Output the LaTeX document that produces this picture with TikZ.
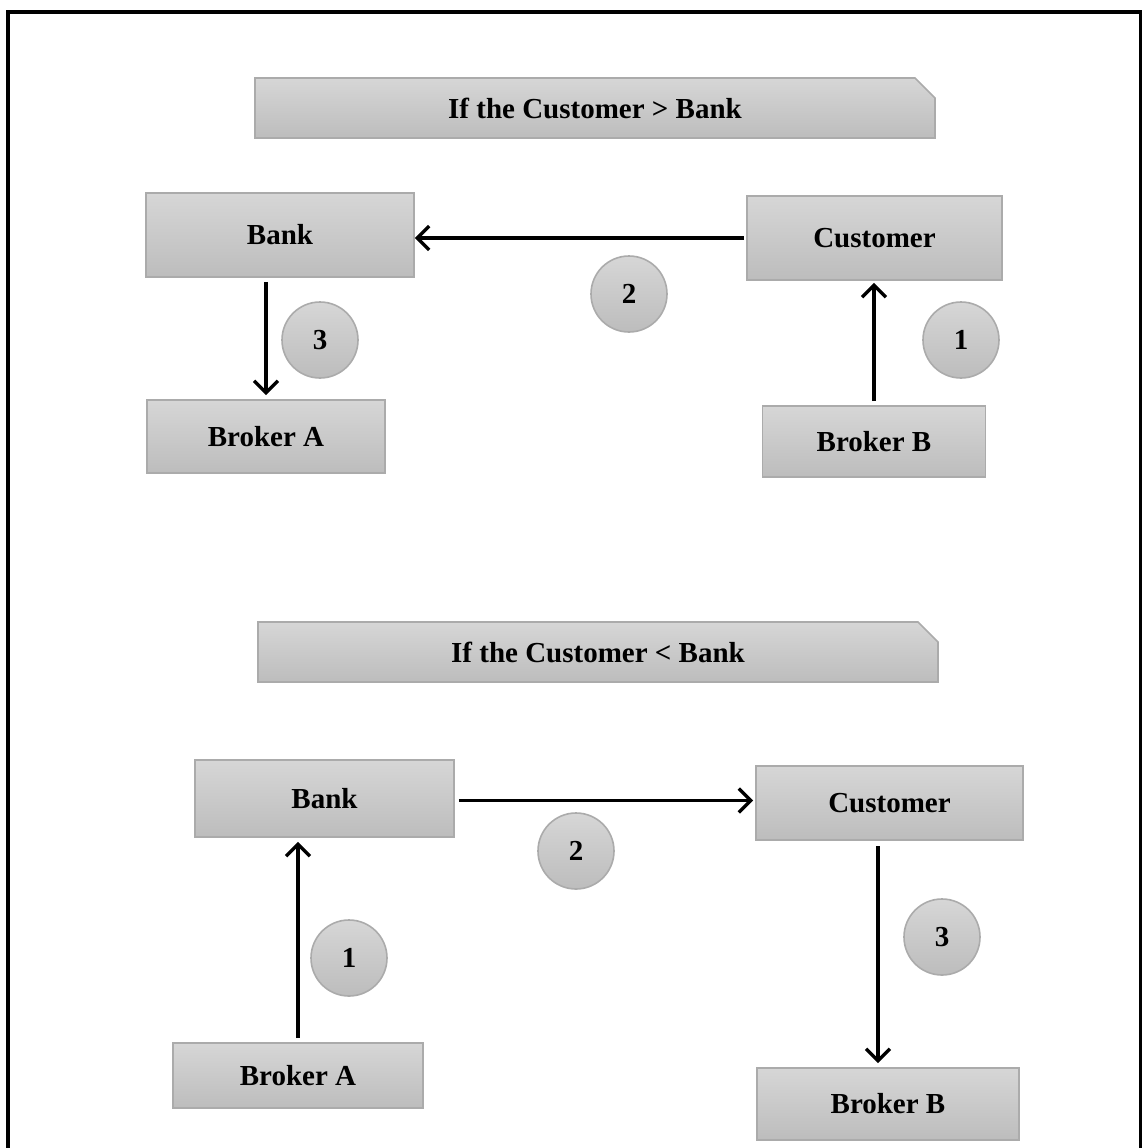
\documentclass[tikz,border=0pt]{standalone}
\usepackage{fontspec}
\setmainfont{Liberation Serif}
\usetikzlibrary{arrows.meta,shapes.misc}
\tikzset{
  shade box/.style={draw=black!33, line width=0.8pt, top color=black!16, bottom color=black!26,
    font=\fontsize{14.5}{17}\selectfont\bfseries, inner sep=0pt},
  stepbox/.style={shade box, rectangle},
  titlebox/.style={shade box, chamfered rectangle, chamfered rectangle corners=north east,
    chamfered rectangle xsep=5pt, chamfered rectangle ysep=5pt,
    minimum width=340pt, minimum height=30pt},
  badge/.style={shade box, circle, minimum size=38pt},
  flow/.style={line width=1.7pt, -{Straight Barb[length=6pt,width=12pt,line width=1.7pt]}}
}
\begin{document}
\begin{tikzpicture}[x=0.5pt,y=-0.5pt]
\useasboundingbox (0,0) rectangle (1142,1148);
% outer frame (open at the bottom)
\draw[line width=2pt] (8,1160) -- (8,12) -- (1141,12) -- (1141,1160);

% ---- case: customer > bank ----
\node[titlebox] (t1) at (595,108) {If the Customer > Bank};
\node[stepbox, minimum width=134pt, minimum height=42pt] (bank1) at (280,235) {Bank};
\node[stepbox, minimum width=127.5pt, minimum height=42pt] (cust1) at (874.5,238) {Customer};
\node[stepbox, minimum width=119pt, minimum height=36.5pt] (brA1) at (266,436.5) {Broker A};
\node[stepbox, minimum width=111.5pt, minimum height=35.5pt] (brB1) at (874,441.5) {Broker B};
\node[badge] (n1a) at (961,340) {1};
\node[badge] (n2a) at (629,294) {2};
\node[badge] (n3a) at (320,340) {3};

\draw[flow, shorten <=1pt] (cust1.west) -- (cust1.west -| bank1.east);
\draw[flow, shorten <=2pt, shorten >=2pt] (bank1.south -| brA1.north) -- (brA1.north);
\draw[flow, shorten <=2pt, shorten >=1pt] (brB1.north) -- (brB1.north |- cust1.south);

% ---- case: customer < bank ----
\node[titlebox] (t2) at (598,652) {If the Customer < Bank};
\node[stepbox, minimum width=129.5pt, minimum height=38.5pt] (bank2) at (324.5,798.5) {Bank};
\node[stepbox, minimum width=133.5pt, minimum height=37pt] (cust2) at (889.5,803) {Customer};
\node[stepbox, minimum width=125pt, minimum height=32.5pt] (brA2) at (298,1075.5) {Broker A};
\node[stepbox, minimum width=131pt, minimum height=36pt] (brB2) at (888,1104) {Broker B};
\node[badge] (n1b) at (349,958) {1};
\node[badge] (n2b) at (576,851) {2};
\node[badge] (n3b) at (942,937) {3};

\coordinate (c2out) at (878,840);
\draw[flow, shorten <=2pt, shorten >=1pt] ([yshift=-1]bank2.east) -- ([yshift=-1]bank2.east -| cust2.west);
\draw[flow, shorten <=2pt, shorten >=2pt] (brA2.north) -- (brA2.north |- bank2.south);
\draw[flow, shorten <=3pt, shorten >=2pt] (c2out) -- (c2out |- brB2.north);
\end{tikzpicture}
\end{document}
